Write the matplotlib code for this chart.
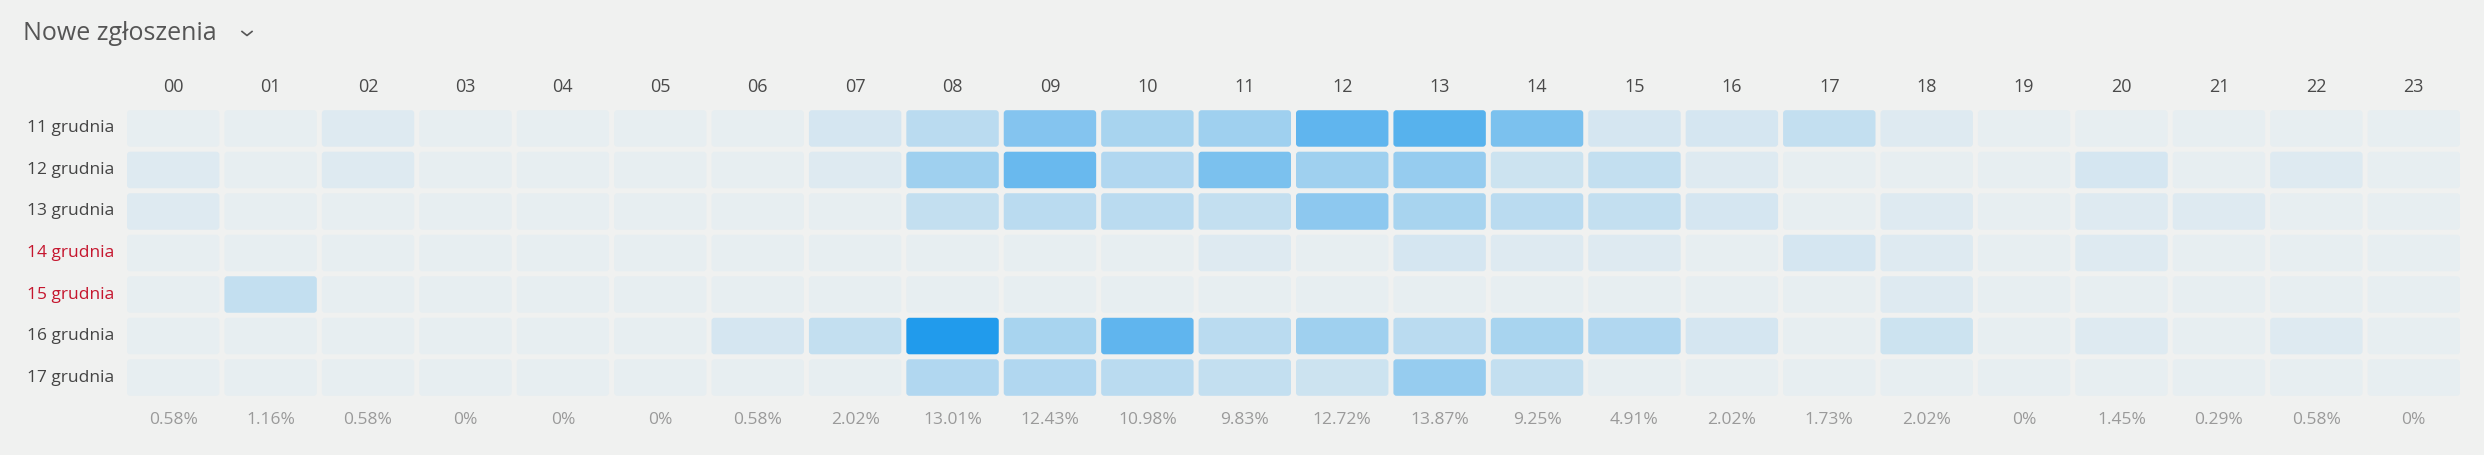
import numpy as np
import matplotlib.pyplot as plt
from matplotlib.patches import FancyBboxPatch
from matplotlib.colors import to_rgb
from matplotlib.lines import Line2D

plt.rcParams['font.family'] = ['Open Sans', 'DejaVu Sans']

title = "Nowe zgłoszenia"
hours = ["%02d" % h for h in range(24)]
days = ["11 grudnia", "12 grudnia", "13 grudnia", "14 grudnia",
        "15 grudnia", "16 grudnia", "17 grudnia"]
weekend = [False, False, False, True, True, False, False]

# tickets per day (rows) and hour (columns)
d11 = [0, 0, 1, 0, 0, 0, 0, 2, 5, 11, 7, 8, 15, 16, 12, 2, 2, 4, 1, 0, 0, 0, 0, 0]
d12 = [1, 0, 1, 0, 0, 0, 0, 1, 8, 14, 6, 12, 8, 9, 3, 4, 1, 0, 0, 0, 2, 0, 1, 0]
d13 = [1, 0, 0, 0, 0, 0, 0, 0, 4, 5, 5, 4, 10, 7, 5, 4, 2, 0, 1, 0, 1, 1, 0, 0]
d14 = [0, 0, 0, 0, 0, 0, 0, 0, 0, 0, 0, 1, 0, 2, 1, 1, 0, 2, 1, 0, 1, 0, 0, 0]
d15 = [0, 4, 0, 0, 0, 0, 0, 0, 0, 0, 0, 0, 0, 0, 0, 0, 0, 0, 1, 0, 0, 0, 0, 0]
d16 = [0, 0, 0, 0, 0, 0, 2, 4, 22, 7, 15, 5, 8, 5, 7, 6, 2, 0, 3, 0, 1, 0, 1, 0]
d17 = [0, 0, 0, 0, 0, 0, 0, 0, 6, 6, 5, 4, 3, 9, 4, 0, 0, 0, 0, 0, 0, 0, 0, 0]
counts = np.array([d11, d12, d13, d14, d15, d16, d17])

W, H, DPI = 2484, 455, 100
bg = "#f0f1f0"
base = np.array(to_rgb("#e7eef1"))
dark = np.array(to_rgb("#219bec"))

fig = plt.figure(figsize=(W / DPI, H / DPI), dpi=DPI, facecolor=bg)
ax = fig.add_axes([124.5 / W, 1 - 398.3 / H, (2462.5 - 124.5) / W, (398.3 - 107.7) / H])
ax.set_xlim(-0.5, 23.5)
ax.set_ylim(6.5, -0.5)
ax.axis("off")

gx, gy = 5 / 97.4, 5 / 41.5
asp = 97.4 / 41.5
vmax = counts.max()
for r in range(len(days)):
    for c in range(len(hours)):
        t = counts[r, c] / vmax
        col = base + t * (dark - base)
        ax.add_patch(FancyBboxPatch((c - 0.5 + gx / 2, r - 0.5 + gy / 2), 1 - gx, 1 - gy,
                                    boxstyle="round,pad=0,rounding_size=0.032",
                                    mutation_aspect=asp, fc=col, ec="none"))

tr = ax.get_xaxis_transform()
for c, h in enumerate(hours):
    ax.text(c, 1.072, h, transform=tr, ha="center", va="center", fontsize=13, color="#4a4a4a")

total = counts.sum()
for c in range(len(hours)):
    pct = counts[:, c].sum() / total * 100
    s = ("%.2f" % pct).rstrip("0").rstrip(".") + "%"
    ax.text(c, -0.075, s, transform=tr, ha="center", va="center", fontsize=12.5, color="#9a9a9a")

for r, d in enumerate(days):
    ax.text(-0.606, r, d, ha="right", va="center", fontsize=12.5,
            color="#c5162e" if weekend[r] else "#444444")

fig.text(23 / W, 1 - 34 / H, title, ha="left", va="center", fontsize=18, color="#555555")
fig.add_artist(Line2D([242 / W, 247 / W, 252 / W], [1 - 31.5 / H, 1 - 35.5 / H, 1 - 31.5 / H],
                      color="#555555", lw=1.2))

fig.savefig("out.png", dpi=DPI, facecolor=bg)
